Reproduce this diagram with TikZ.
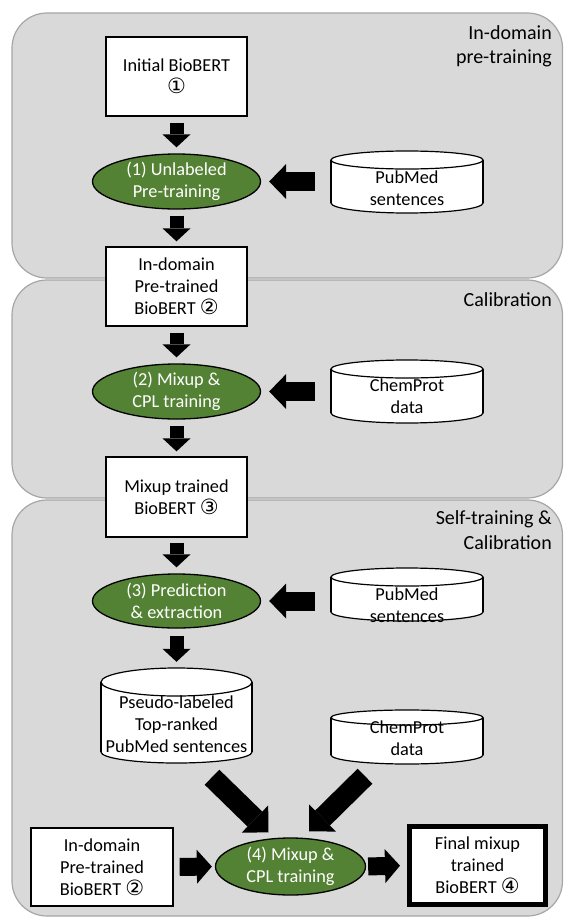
\documentclass[tikz,border=0pt]{standalone}
\usepackage{fontspec}
\setmainfont{Carlito}
\newfontfamily\circfont{DejaVu Sans}[Scale=1.15]
\usetikzlibrary{arrows.meta,calc,shapes.geometric}
\definecolor{panelfill}{HTML}{D9D9D9}
\definecolor{panelline}{HTML}{A6A6A6}
\definecolor{stepgreen}{HTML}{548235}
\newcommand\circnum[1]{{\circfont #1}}
% name, cx, top, bottom, rx, ry-top, ry-bottom, text-y, text
\newcommand\cylinderat[9]{%
  \node[cylbox, minimum width={2*#5}, minimum height={#4-#3}] (#1) at (#2,{(#3+#4)/2}) {};
  \fill[white] (#2-#5,#3+#6) rectangle (#2+#5,#4-#7);
  \fill[white] (#2,#3+#6) ellipse[x radius=#5, y radius=#6];
  \fill[white] (#2,#4-#7) ellipse[x radius=#5, y radius=#7];
  \draw[cylline] (#2-#5,#3+#6) -- (#2-#5,#4-#7);
  \draw[cylline] (#2+#5,#3+#6) -- (#2+#5,#4-#7);
  \begin{scope}
    \clip (#2-#5-3,#4-#7) rectangle (#2+#5+3,#4+3);
    \draw[cylline] (#2,#4-#7) ellipse[x radius=#5, y radius=#7];
  \end{scope}
  \node[cyltext] (#1t) at (#2,#8) {#9};
  \draw[cylline] (#2,#3+#6) ellipse[x radius=#5, y radius=#6];
}
\begin{document}
\begin{tikzpicture}[x=1pt,y=-1pt,
  font=\fontsize{18.3}{22}\selectfont,
  panel/.style={draw=panelline, line width=1.2pt, fill=panelfill, rounded corners=35pt},
  stepbox/.style={draw=black, line width=1.3pt, fill=white, minimum width=141pt,
    minimum height=79pt, inner sep=0pt, align=center},
  procell/.style={ellipse, draw=black, line width=1.3pt, fill=stepgreen, text=white,
    inner sep=0pt, align=center, minimum width=168pt, minimum height=55pt},
  cylbox/.style={inner sep=0pt, draw=none},
  cylline/.style={draw=black, line width=1.2pt},
  cyltext/.style={align=center, inner sep=0pt},
  phase/.style={anchor=base east, inner sep=0pt, font=\fontsize{20}{24}\selectfont},
  darrow/.style={line width=14pt, -{Triangle[length=13pt,width=28pt,line width=0pt]}},
  larrow/.style={line width=19pt, -{Triangle[length=17pt,width=35pt,line width=0pt]}},
  dgarrow/.style={line width=21pt, -{Triangle[length=19pt,width=38pt,line width=0pt]}},
  barrow/.style={line width=18pt, -{Triangle[length=15pt,width=34pt,line width=0pt]}}
]
\useasboundingbox (0,0) rectangle (564,919);

% panels
\draw[panel] (12,13) rectangle (562.5,278);
\draw[panel] (12,280) rectangle (562.5,498);
\draw[panel] (12,500) rectangle (562.5,916);

\node[phase] (l1a) at (552,39) {In-domain};
\node[phase] (l1b) at (552,63) {pre-training};
\node[phase] (l2a) at (552,306) {Calibration};
\node[phase] (l3a) at (552,524) {Self-training \&};
\node[phase] (l3b) at (552,549) {Calibration};

% main column
\node[stepbox] (b1) at (176.5,76.5) {Initial BioBERT\\\circnum{①}};
\node[procell] (e1) at (176.5,181.5) {(1) Unlabeled\\Pre-training};
\node[stepbox] (b2) at (176.5,286.5) {In-domain\\Pre-trained\\BioBERT \circnum{②}};
\node[procell] (e2) at (176.5,391.5) {(2) Mixup \&\\CPL training};
\node[stepbox, minimum height=80pt] (b3) at (176.5,497) {Mixup trained\\BioBERT \circnum{③}};
\node[procell, minimum height=54pt] (e3) at (176.5,601) {(3) Prediction\\\& extraction};

% cylinders
\cylinderat{c1}{407}{151}{213}{76}{9}{10}{188}{PubMed\\sentences}
\cylinderat{c2}{407}{360}{423}{76}{9}{10}{396.5}{ChemProt\\data}
\cylinderat{c3}{407}{568}{621}{76}{9}{9}{605}{PubMed\\sentences}
\cylinderat{c4}{176.5}{668}{763}{75.5}{14}{11}{724}{Pseudo-labeled\\Top-ranked\\PubMed sentences}
\cylinderat{c5}{407}{710}{764}{76}{7.5}{9}{738.5}{ChemProt\\data}

% bottom row
\node[stepbox, minimum width=142pt, minimum height=78pt] (b4) at (102,867) {In-domain\\Pre-trained\\BioBERT \circnum{②}};
\node[procell, minimum width=150pt, minimum height=57pt] (e4) at (290.5,866.5) {(4) Mixup \&\\CPL training};
\node[stepbox, line width=5pt, minimum width=136pt, minimum height=78pt] (b5) at (477.5,865.5) {Final mixup\\trained\\BioBERT \circnum{④}};

% vertical arrows
\draw[darrow, shorten <=6pt, shorten >=6pt] (b1.south) -- (e1.north);
\draw[darrow, shorten <=6pt, shorten >=5pt] (e1.south) -- (b2.north);
\draw[darrow, shorten <=6pt, shorten >=6pt] (b2.south) -- (e2.north);
\draw[darrow, shorten <=6pt, shorten >=5pt] (e2.south) -- (b3.north);
\draw[darrow, shorten <=5pt, shorten >=6pt] (b3.south) -- (e3.north);
\draw[darrow, shorten <=7pt, shorten >=6pt] (e3.south) -- (c4.north);

% left arrows
\draw[larrow, shorten <=16pt, shorten >=8pt] (e1.east -| c1.west) -- (e1.east);
\draw[larrow, shorten <=16pt, shorten >=8pt] (e2.east -| c2.west) -- (e2.east);
\draw[larrow, shorten <=16pt, shorten >=8pt] (e3.east -| c3.west) -- (e3.east);

% diagonal arrows
\draw[dgarrow] ($(c4.south)+(35.5,14)$) -- ($(e4.north)+(-22,-5)$);
\draw[dgarrow] ($(c5.south)+(-42,12)$) -- ($(e4.north)+(18.5,-6)$);

% bottom arrows
\draw[barrow, shorten <=6pt, shorten >=3pt] (b4.east) -- (e4.west);
\draw[barrow, shorten <=2pt, shorten >=7pt] (e4.east) -- (b5.west);
\end{tikzpicture}
\end{document}
